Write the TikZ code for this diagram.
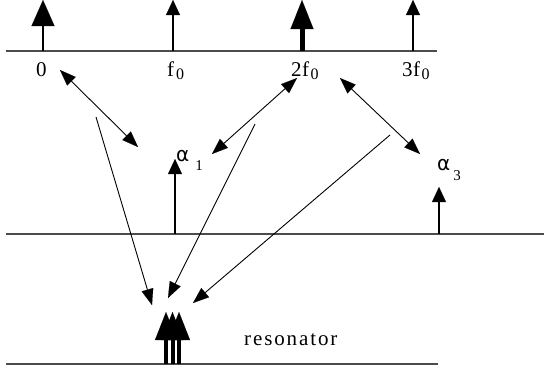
\documentclass[tikz,border=0pt]{standalone}
\usepackage{fontspec}
\setmainfont{Liberation Serif}
\newfontfamily\spacedserif[LetterSpace=9]{Liberation Serif}
\newfontfamily\alphafont{DejaVu Sans}
\usetikzlibrary{arrows.meta}
\newcommand\mysub[1]{\raisebox{-3.5pt}{\fontsize{16}{16}\selectfont #1}}
\begin{document}
\begin{tikzpicture}[x=1pt,y=-1pt,
  axis/.style={line width=1.5pt,draw=black!70},
  bigspike/.style={line width=1.6pt,-{Triangle[length=26pt,width=23pt,line width=0.1pt]}},
  fatspike/.style={line width=5pt,-{Triangle[length=29pt,width=23pt,line width=0.1pt]}},
  thinspike/.style={line width=1.1pt,-{Triangle[length=15pt,width=14pt,line width=0.1pt]}},
  resspike/.style={line width=4pt,-{Triangle[length=28pt,width=22pt,line width=0.1pt]}},
  link/.style={line width=0.9pt,-{Triangle[length=16pt,width=12pt,line width=0.1pt]}},
  dlink/.style={line width=0.9pt,{Triangle[length=16pt,width=12pt,line width=0.1pt]}-{Triangle[length=16pt,width=12pt,line width=0.1pt]}},
  lbl/.style={inner sep=0pt,anchor=base west,font=\fontsize{21}{21}\selectfont},
  albl/.style={inner sep=0pt,anchor=base west,font=\alphafont\fontsize{20}{20}\selectfont},
]
\useasboundingbox (0,0) rectangle (544,373);

% axes
\coordinate (ax1l) at (6,51);   \coordinate (ax1r) at (437,51);
\coordinate (ax2l) at (6,234);  \coordinate (ax2r) at (544,234);
\coordinate (ax3l) at (6,364);  \coordinate (ax3r) at (438,364);
\draw[axis] (ax1l) -- (ax1r);
\draw[axis] (ax2l) -- (ax2r);
\draw[axis] (ax3l) -- (ax3r);

% top spectrum
\coordinate (s0b) at (43,51);  \coordinate (s0t) at (43,0);
\coordinate (s1b) at (173,51); \coordinate (s1t) at (173,0);
\coordinate (s2b) at (302,51); \coordinate (s2t) at (302,0);
\coordinate (s3b) at (413,51); \coordinate (s3t) at (413,0);
\draw[bigspike] (s0b) -- (s0t);
\draw[thinspike] (s1b) -- (s1t);
\draw[fatspike] (s2b) -- (s2t);
\draw[thinspike] (s3b) -- (s3t);

\node[lbl] (l0) at (36,76) {0};
\node[lbl] (lf) at (167,76) {f\hspace{2pt}\mysub{0}};
\node[lbl] (l2f) at (291,76) {2\hspace{0.5pt}f\hspace{1.5pt}\mysub{0}};
\node[lbl] (l3f) at (402,76) {3\hspace{0.5pt}f\hspace{1.5pt}\mysub{0}};

% middle spectrum
\coordinate (a1b) at (175,234); \coordinate (a1t) at (175,159);
\coordinate (a3b) at (439,234); \coordinate (a3t) at (439,187);
\draw[thinspike] (a1b) -- (a1t);
\draw[thinspike] (a3b) -- (a3t);
\node[albl] (la1) at (176,161) {α\hspace{6pt}\raisebox{-9pt}{\rmfamily\fontsize{15}{15}\selectfont 1}};
\node[albl] (la3) at (437,170) {α\hspace{3pt}\raisebox{-10pt}{\rmfamily\fontsize{15}{15}\selectfont 3}};

% resonator
\coordinate (r1b) at (166,364); \coordinate (r1t) at (166,312);
\coordinate (r2b) at (172.5,364); \coordinate (r2t) at (172.5,312);
\coordinate (r3b) at (179,364); \coordinate (r3t) at (179,312);
\draw[resspike] (r1b) -- (r1t);
\draw[resspike] (r2b) -- (r2t);
\draw[resspike] (r3b) -- (r3t);
\node[inner sep=0pt,anchor=base west,font=\spacedserif\fontsize{21}{21}\selectfont] (res) at (244,345) {resonator};

% double arrows
\coordinate (d1a) at (60,70);   \coordinate (d1b) at (138,147);
\coordinate (d2a) at (297,78);  \coordinate (d2b) at (212,154);
\coordinate (d3a) at (340,78);  \coordinate (d3b) at (420,154);
\draw[dlink] (d1a) -- (d1b);
\draw[dlink] (d2a) -- (d2b);
\draw[dlink] (d3a) -- (d3b);

% arrows into resonator
\coordinate (ia) at (96,117);  \coordinate (ea) at (152,305);
\coordinate (ib) at (255,124); \coordinate (eb) at (168,298);
\coordinate (ic) at (390,135); \coordinate (ec) at (193,303);
\draw[link] (ia) -- (ea);
\draw[link] (ib) -- (eb);
\draw[link] (ic) -- (ec);
\end{tikzpicture}
\end{document}
